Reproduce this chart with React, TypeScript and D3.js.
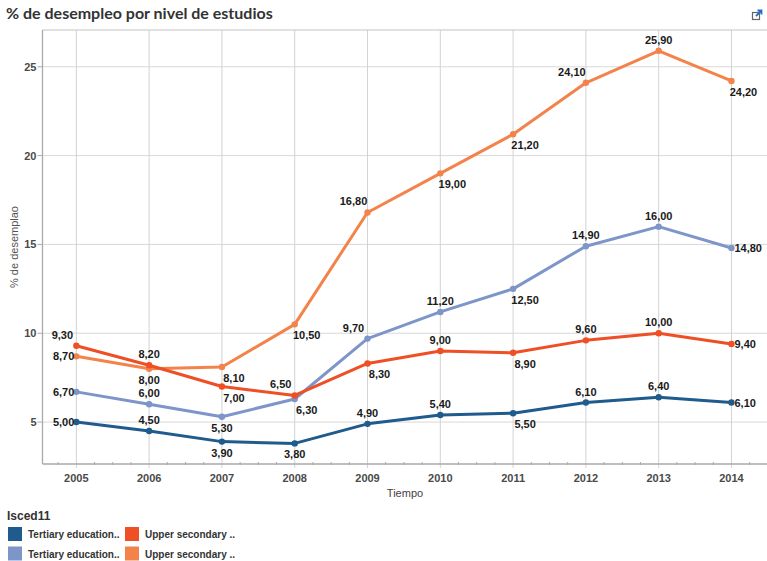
import React from "react";
import * as d3 from "d3";

const years = [2005, 2006, 2007, 2008, 2009, 2010, 2011, 2012, 2013, 2014];
const tertiaryDark = [5.0, 4.5, 3.9, 3.8, 4.9, 5.4, 5.5, 6.1, 6.4, 6.1];
const tertiaryLight = [6.7, 6.0, 5.3, 6.3, 9.7, 11.2, 12.5, 14.9, 16.0, 14.8];
const upperDark = [9.3, 8.2, 7.0, 6.5, 8.3, 9.0, 8.9, 9.6, 10.0, 9.4];
const upperLight = [8.7, 8.0, 8.1, 10.5, 16.8, 19.0, 21.2, 24.1, 25.9, 24.2];
const yTicks = [5, 10, 15, 20, 25];
const legendLabels = ["Tertiary education..", "Upper secondary ..", "Tertiary education..", "Upper secondary .."];

// label placement codes (style, not data)
const placeTD = ["L", "A", "B", "B", "A", "A", "BR", "A", "A", "R"];
const placeTL = ["L", "A", "B", "BR", "AL", "A", "BR", "A", "A", "R"];
const placeUD = ["AL", "A", "BR", "AL", "BR", "A", "BR", "A", "A", "R"];
const placeUL = ["L", "B", "BR", "BR", "AL", "BR", "BR", "AL", "A", "BR"];

const fmt = (v: number) => v.toFixed(2).replace(".", ",");

export default function App() {
  const W = 767, H = 561;
  const left = 42.5, right = 767.5, top = 30, bottom = 464;
  const x = d3.scaleLinear().domain([2004.535, 2014.495]).range([left, right]);
  const y = d3.scaleLinear().domain([2.64, 27.07]).range([bottom, top]);

  const series = [
    { name: "Tertiary education..", values: tertiaryDark, color: "#1f5b8c", place: placeTD },
    { name: "Tertiary education..", values: tertiaryLight, color: "#7d95c9", place: placeTL },
    { name: "Upper secondary ..", values: upperDark, color: "#ee4f24", place: placeUD },
    { name: "Upper secondary ..", values: upperLight, color: "#f3834b", place: placeUL },
  ];
  const drawOrder = [3, 1, 2, 0];

  const line = d3
    .line<number>()
    .x((_, i) => x(years[i]))
    .y((d) => y(d));

  const minorTicks = d3.range(2004.75, 2014.5, 0.25).filter((t) => Math.abs(t - Math.round(t)) > 0.01);

  const labelProps = (p: string, px: number, py: number) => {
    switch (p) {
      case "A": return { x: px, y: py - 7, anchor: "middle" };
      case "AL": return { x: px - 14, y: py - 7, anchor: "middle" };
      case "B": return { x: px, y: py + 15, anchor: "middle" };
      case "BR": return { x: px + 12, y: py + 15, anchor: "middle" };
      case "L": return { x: px - 2, y: py + 4, anchor: "end" };
      case "R": return { x: px + 3, y: py + 4, anchor: "start" };
      default: return { x: px, y: py - 7, anchor: "middle" };
    }
  };

  const legendColors = ["#1f5b8c", "#ee4f24", "#7d95c9", "#f3834b"];

  return (
    <svg width={W} height={H} style={{ position: "absolute", left: 0, top: 0, background: "#fff" }} fontFamily="'Liberation Sans', Arial, sans-serif">
      <text x={6} y={19} fontFamily="Lato, 'Open Sans', sans-serif" fontWeight="bold" fontSize={16} fill="#333">
        % de desempleo por nivel de estudios
      </text>
      {/* external link icon */}
      <g transform="translate(752,10)">
        <rect x={0.5} y={2.5} width={7} height={7} fill="none" stroke="#666" strokeWidth={1.2} />
        <path d="M4 6 L9.5 0.5 M5.5 0.5 H9.5 V4.5" stroke="#2a6fc0" strokeWidth={1.8} fill="none" />
      </g>

      {/* grid */}
      {yTicks.map((t) => (
        <line key={"gy" + t} x1={left} x2={right} y1={y(t)} y2={y(t)} stroke="#d9d9d9" strokeWidth={1} />
      ))}
      {years.map((t) => (
        <line key={"gx" + t} x1={x(t)} x2={x(t)} y1={top} y2={bottom + 4} stroke="#d3d3d3" strokeWidth={1} />
      ))}
      <line x1={left} x2={right} y1={top} y2={top} stroke="#c4c4c4" strokeWidth={1.2} />
      <line x1={left} x2={left} y1={top} y2={bottom} stroke="#aaa" strokeWidth={1.3} />
      <line x1={left} x2={right} y1={bottom} y2={bottom} stroke="#aaa" strokeWidth={1.3} />
      {minorTicks.map((t) => (
        <line key={"mt" + t} x1={x(t)} x2={x(t)} y1={bottom - 2} y2={bottom + 1} stroke="#aaa" strokeWidth={1} />
      ))}
      {yTicks.map((t) => (
        <g key={"yt" + t}>
          <line x1={left - 5} x2={left} y1={y(t)} y2={y(t)} stroke="#aaa" strokeWidth={1} />
          <text x={left - 6} y={y(t) + 4} textAnchor="end" fontSize={11} fontWeight="bold" fill="#4a4a4a">
            {t}
          </text>
        </g>
      ))}
      {years.map((t) => (
        <text key={"xt" + t} x={x(t)} y={482} textAnchor="middle" fontSize={11} fontWeight="bold" fill="#4a4a4a">
          {t}
        </text>
      ))}
      <text x={(left + right) / 2} y={497} textAnchor="middle" fontSize={11} fill="#444">
        Tiempo
      </text>
      <text transform={`translate(18,${(top + bottom) / 2}) rotate(-90)`} textAnchor="middle" fontSize={11} fill="#555">
        % de desemplao
      </text>

      {/* lines */}
      {drawOrder.map((si) => {
        const s = series[si];
        return (
          <g key={"s" + si}>
            <path d={line(s.values) || ""} fill="none" stroke={s.color} strokeWidth={3} strokeLinejoin="round" />
            {s.values.map((v, i) => (
              <circle key={i} cx={x(years[i])} cy={y(v)} r={3.2} fill={s.color} />
            ))}
          </g>
        );
      })}
      {/* labels */}
      {drawOrder.map((si) => {
        const s = series[si];
        return (
          <g key={"l" + si}>
            {s.values.map((v, i) => {
              const lp = labelProps(s.place[i], x(years[i]), y(v));
              return (
                <text key={i} x={lp.x} y={lp.y} textAnchor={lp.anchor as any} fontSize={11} fontWeight="bold" fill="#1a1a1a">
                  {fmt(v)}
                </text>
              );
            })}
          </g>
        );
      })}

      {/* legend */}
      <text x={7} y={520} fontSize={12} fontWeight="bold" fill="#333">
        Isced11
      </text>
      {legendLabels.map((lab, i) => {
        const col = i % 2;
        const row = Math.floor(i / 2);
        const lx = 8 + col * 117;
        const ly = 527 + row * 19.5;
        return (
          <g key={"lg" + i}>
            <rect x={lx} y={ly} width={14} height={14} fill={legendColors[i]} />
            <text x={lx + 20} y={ly + 11} fontSize={10} fontWeight="bold" fill="#333">
              {lab}
            </text>
          </g>
        );
      })}
    </svg>
  );
}
